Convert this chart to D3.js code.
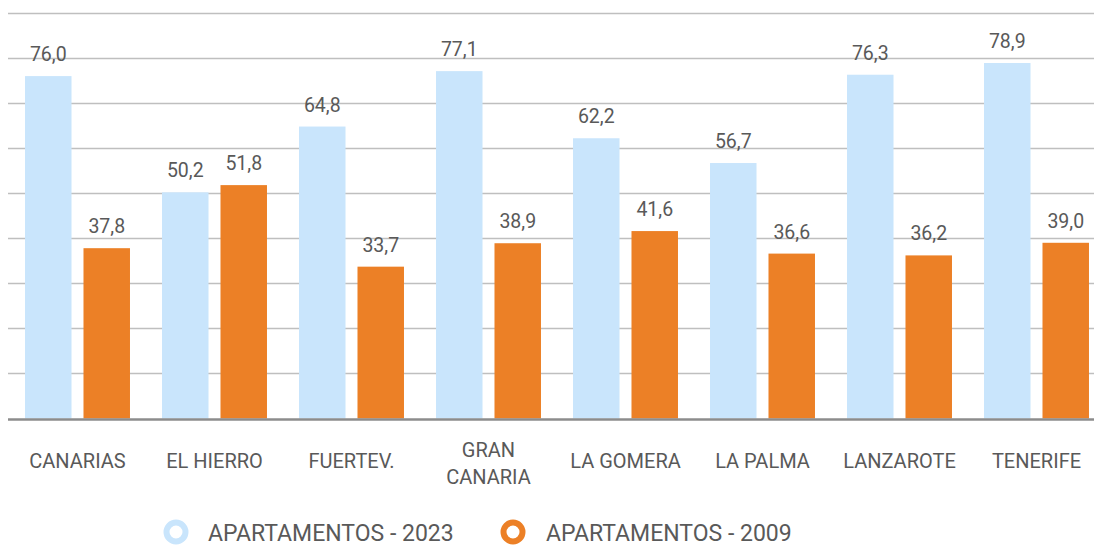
<!DOCTYPE html>
<html>
<head>
<meta charset="utf-8">
<script src="https://cdn.jsdelivr.net/npm/d3@7"></script>
<style>
  html, body { margin: 0; padding: 0; background: #fff; }
  svg { display: block; font-family: "Roboto", "Liberation Sans", sans-serif; }
</style>
</head>
<body>
<svg id="chart" width="1094" height="547"></svg>
<script>
// Ocupación por isla
const categories = ["CANARIAS", "EL HIERRO", "FUERTEV.", "GRAN CANARIA", "LA GOMERA", "LA PALMA", "LANZAROTE", "TENERIFE"];
const categoryLines = [["CANARIAS"], ["EL HIERRO"], ["FUERTEV."], ["GRAN", "CANARIA"], ["LA GOMERA"], ["LA PALMA"], ["LANZAROTE"], ["TENERIFE"]];
const apartamentos2023 = [76.0, 50.2, 64.8, 77.1, 62.2, 56.7, 76.3, 78.9];
const apartamentos2009 = [37.8, 51.8, 33.7, 38.9, 41.6, 36.6, 36.2, 39.0];
const seriesNames = ["APARTAMENTOS - 2023", "APARTAMENTOS - 2009"];
const seriesColors = ["#C9E5FC", "#EC8026"];
const yTicks = [0, 10, 20, 30, 40, 50, 60, 70, 80, 90];

const svg = d3.select("#chart");
const plotLeft = 8, plotRight = 1094, plotTop = 13, plotBottom = 418.5;
const bandStart = 9, bandEnd = 9 + 137 * 8;

const x = d3.scaleBand().domain(categories).range([bandStart, bandEnd]).paddingInner(0).paddingOuter(0);
const x1 = d3.scaleBand().domain(seriesNames).range([0, x.bandwidth()]).paddingInner(0.205).paddingOuter(0.274);
const y = d3.scaleLinear().domain([0, 90]).range([plotBottom, plotTop]);

// gridlines
svg.append("g").selectAll("line").data(yTicks.slice(1)).join("line")
  .attr("x1", plotLeft).attr("x2", plotRight)
  .attr("y1", d => Math.round(y(d)) + 0.5).attr("y2", d => Math.round(y(d)) + 0.5)
  .attr("stroke", "#BFBFBF").attr("stroke-width", 1.3);

const fmt = v => v.toFixed(1).replace(".", ",");

const data = categories.map((c, i) => ({
  cat: c,
  vals: [
    { s: seriesNames[0], v: apartamentos2023[i], color: seriesColors[0] },
    { s: seriesNames[1], v: apartamentos2009[i], color: seriesColors[1] }
  ]
}));

const groups = svg.append("g").selectAll("g").data(data).join("g")
  .attr("transform", d => `translate(${x(d.cat)},0)`);

groups.selectAll("rect").data(d => d.vals).join("rect")
  .attr("x", d => x1(d.s))
  .attr("width", x1.bandwidth())
  .attr("y", d => y(d.v))
  .attr("height", d => y(0) - y(d.v))
  .attr("fill", d => d.color);

groups.selectAll("text.val").data(d => d.vals).join("text")
  .attr("class", "val")
  .attr("x", d => x1(d.s) + x1.bandwidth() / 2)
  .attr("y", d => y(d.v) - 15)
  .attr("text-anchor", "middle")
  .attr("font-size", 19.5)
  .attr("fill", "#595959")
  .text(d => fmt(d.v));

// baseline
svg.append("line")
  .attr("x1", plotLeft).attr("x2", plotRight)
  .attr("y1", y(0) + 1).attr("y2", y(0) + 1)
  .attr("stroke", "#8C8C8C").attr("stroke-width", 2.5);

// category labels
const catG = svg.append("g");
categories.forEach((c, i) => {
  const lines = categoryLines[i];
  const cx = x(c) + x.bandwidth() / 2;
  const t = catG.append("text")
    .attr("x", cx)
    .attr("text-anchor", "middle")
    .attr("font-size", 20)
    .attr("fill", "#595959");
  lines.forEach((ln, j) => {
    t.append("tspan")
      .attr("x", cx)
      .attr("y", lines.length === 1 ? 468 : 457 + j * 27)
      .text(ln);
  });
});

// legend
const legendItems = [{ cx: 176, tx: 208 }, { cx: 513, tx: 546 }];
const lg = svg.append("g");
seriesNames.forEach((s, i) => {
  lg.append("circle")
    .attr("cx", legendItems[i].cx).attr("cy", 532).attr("r", 9.5)
    .attr("fill", "none").attr("stroke", seriesColors[i]).attr("stroke-width", 6);
  lg.append("text")
    .attr("x", legendItems[i].tx).attr("y", 541)
    .attr("font-size", 23).attr("fill", "#595959")
    .text(s);
});
</script>
</body>
</html>
